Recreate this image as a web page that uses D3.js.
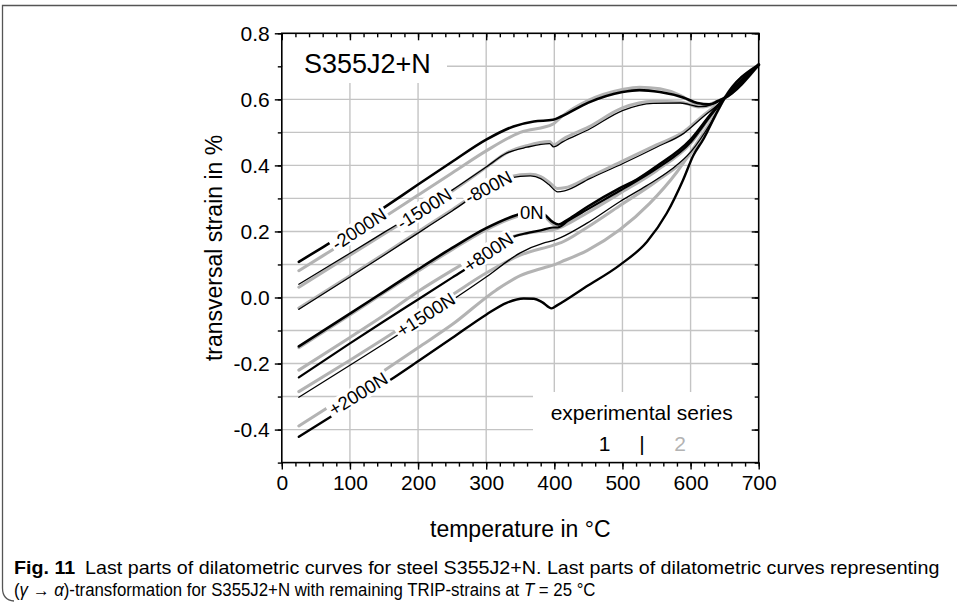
<!DOCTYPE html>
<html>
<head>
<meta charset="utf-8">
<script src="https://cdn.jsdelivr.net/npm/d3@7"></script>
<style>
  body { margin: 0; background: #fff; }
  svg { display: block; }
  text { font-family: "Liberation Sans", Arial, Helvetica, sans-serif; fill: #000; }
</style>
</head>
<body>
<svg id="chart" width="957" height="602"></svg>
<script>
// ---- axis ticks -------------------------------------------------------
const xTickValues = [0, 100, 200, 300, 400, 500, 600, 700];
const yTickValues = [-0.4, -0.2, 0.0, 0.2, 0.4, 0.6, 0.8];

// ---- load cases (label text) ------------------------------------------
const loads = ["-2000N", "-1500N", "-800N", "0N", "+800N", "+1500N", "+2000N"];

// ---- series 1 (black): [temperature °C, transversal strain %] ----------
const s1_m2000 = [[25,0.108],[60,0.152],[100,0.204],[150,0.272],[200,0.342],[250,0.411],[300,0.478],[340,0.518],[370,0.533],[398,0.538],[410,0.548],[450,0.590],[500,0.622],[525,0.628],[555,0.622],[590,0.605],[610,0.589],[628,0.585],[640,0.595],[650,0.604],[700,0.705]];
const s1_m1500 = [[25,0.040],[100,0.134],[150,0.197],[200,0.260],[250,0.325],[300,0.395],[330,0.437],[360,0.455],[393,0.466],[399,0.456],[413,0.472],[450,0.508],[500,0.566],[545,0.588],[585,0.589],[614,0.578],[636,0.588],[650,0.604],[700,0.705]];
const s1_m800  = [[25,-0.036],[100,0.062],[150,0.128],[200,0.195],[250,0.262],[300,0.330],[335,0.362],[365,0.368],[380,0.360],[392,0.342],[405,0.320],[415,0.323],[452,0.360],[500,0.405],[550,0.455],[590,0.497],[619,0.548],[638,0.580],[650,0.604],[700,0.705]];
const s1_0     = [[25,-0.148],[100,-0.049],[150,0.018],[200,0.085],[250,0.150],[300,0.210],[345,0.250],[368,0.262],[385,0.252],[398,0.228],[406,0.221],[420,0.236],[448,0.274],[496,0.331],[521,0.357],[550,0.397],[600,0.478],[630,0.556],[650,0.604],[700,0.705]];
const s1_p800  = [[25,-0.242],[100,-0.139],[150,-0.072],[200,-0.006],[250,0.060],[300,0.126],[340,0.184],[360,0.195],[380,0.203],[398,0.212],[405,0.212],[420,0.232],[448,0.266],[496,0.323],[550,0.390],[600,0.470],[630,0.552],[650,0.604],[700,0.705]];
const s1_p1500 = [[25,-0.302],[100,-0.205],[150,-0.140],[200,-0.074],[250,-0.008],[300,0.062],[350,0.135],[385,0.165],[398,0.172],[410,0.182],[448,0.225],[496,0.290],[535,0.338],[570,0.385],[600,0.440],[630,0.530],[650,0.604],[700,0.705]];
const s1_p2000 = [[25,-0.422],[100,-0.325],[159,-0.250],[200,-0.193],[250,-0.123],[300,-0.052],[330,-0.016],[355,-0.003],[370,-0.004],[382,-0.014],[396,-0.033],[404,-0.024],[447,0.033],[496,0.098],[536,0.169],[565,0.255],[589,0.356],[604,0.430],[619,0.480],[636,0.550],[650,0.604],[700,0.705]];

// ---- series 2 (grey) ---------------------------------------------------
const s2_m2000 = [[25,0.081],[60,0.126],[100,0.177],[150,0.243],[200,0.310],[250,0.377],[300,0.444],[350,0.500],[398,0.525],[412,0.550],[450,0.597],[500,0.630],[525,0.637],[555,0.632],[585,0.612],[605,0.588],[618,0.577],[632,0.583],[650,0.604],[700,0.705]];
const s2_m1500 = [[25,0.031],[100,0.128],[150,0.192],[200,0.256],[250,0.322],[300,0.394],[330,0.438],[360,0.460],[393,0.472],[399,0.462],[413,0.480],[450,0.516],[500,0.574],[545,0.594],[585,0.592],[612,0.577],[634,0.590],[650,0.604],[700,0.705]];
const s2_m800  = [[25,-0.032],[100,0.066],[150,0.132],[200,0.199],[250,0.266],[300,0.333],[335,0.366],[365,0.373],[380,0.366],[392,0.350],[405,0.330],[415,0.332],[452,0.366],[500,0.413],[550,0.462],[590,0.502],[619,0.552],[638,0.583],[650,0.604],[700,0.705]];
const s2_0     = [[25,-0.152],[100,-0.053],[150,0.014],[200,0.080],[250,0.145],[300,0.205],[345,0.245],[368,0.256],[385,0.246],[398,0.222],[406,0.216],[420,0.230],[448,0.268],[496,0.326],[550,0.393],[600,0.474],[630,0.553],[650,0.604],[700,0.705]];
const s2_p800  = [[25,-0.220],[100,-0.121],[150,-0.054],[200,0.018],[250,0.082],[300,0.142],[340,0.185],[370,0.198],[398,0.205],[412,0.215],[448,0.256],[496,0.315],[550,0.384],[600,0.466],[630,0.550],[650,0.604],[700,0.705]];
const s2_p1500 = [[25,-0.285],[100,-0.190],[150,-0.125],[200,-0.058],[250,0.008],[300,0.074],[350,0.128],[398,0.158],[410,0.166],[448,0.212],[496,0.278],[550,0.352],[600,0.436],[630,0.528],[650,0.604],[700,0.705]];
const s2_p2000 = [[25,-0.389],[100,-0.290],[151,-0.220],[200,-0.152],[250,-0.082],[315,0.023],[350,0.066],[385,0.090],[398,0.098],[410,0.108],[448,0.142],[496,0.205],[540,0.285],[580,0.380],[610,0.470],[635,0.550],[650,0.604],[700,0.705]];

const series1 = [s1_m2000, s1_m1500, s1_m800, s1_0, s1_p800, s1_p1500, s1_p2000];
const series2 = [s2_m2000, s2_m1500, s2_m800, s2_0, s2_p800, s2_p1500, s2_p2000];
// line weight of each series-1 curve (some traces are thinner)
const series1Width = [2.6, 1.3, 1.3, 2.6, 2.2, 1.3, 2.4];

// temperature at which each load label sits on its pair of curves
const labelT = [113, 209, 303, 367, 303, 211, 112];

// ---- layout -----------------------------------------------------------
const svg = d3.select("#chart");
const W = 957, H = 602;
const x = d3.scaleLinear().domain([0, 700]).range([281.8, 758.7]);
const y = d3.scaleLinear().domain([-0.5, 0.8]).range([462.6, 33.3]);
const [x0, x1] = x.range();
const [y0, y1] = y.range();

svg.append("rect").attr("width", W).attr("height", H).attr("fill", "#fff");

// figure frame
svg.append("path")
  .attr("d", `M${W},5.5 H2.5 V588 Q2.5,600 14,601`)
  .attr("fill", "none").attr("stroke", "#555").attr("stroke-width", 1.3);

// grid
const gridColor = "#c4c4c4";
const grid = svg.append("g");
d3.range(100, 700, 100).forEach(t => {
  grid.append("line").attr("x1", x(t)).attr("x2", x(t)).attr("y1", y0).attr("y2", y1)
    .attr("stroke", gridColor).attr("stroke-width", 1.4);
});
d3.range(-4, 8).map(k => k / 10).forEach(v => {
  grid.append("line").attr("x1", x0).attr("x2", x1).attr("y1", y(v)).attr("y2", y(v))
    .attr("stroke", gridColor).attr("stroke-width", 1.4);
});

// white panels behind the grade name and the series legend
svg.append("rect").attr("x", x0 + 1).attr("y", y1 + 1).attr("width", 447 - x0 - 1).attr("height", 83 - y1 - 1).attr("fill", "#fff");
svg.append("rect").attr("x", 533).attr("y", 392).attr("width", x1 - 533 - 1).attr("height", y0 - 392 - 1).attr("fill", "#fff");

// curves
const line = d3.line().x(d => x(d[0])).y(d => y(d[1])).curve(d3.curveMonotoneX);
const curves = svg.append("g").attr("fill", "none").attr("stroke-linejoin", "round").attr("stroke-linecap", "round");
series2.forEach(s => {
  curves.append("path").attr("d", line(s)).attr("stroke", "#b3b3b3").attr("stroke-width", 3);
});
series1.forEach((s, i) => {
  curves.append("path").attr("d", line(s)).attr("stroke", "#000").attr("stroke-width", series1Width[i]);
});

// load labels, each on a white patch that interrupts the curves
function valueAt(s, t) {
  for (let i = 1; i < s.length; i++) {
    if (s[i][0] >= t) {
      const [ta, va] = s[i - 1], [tb, vb] = s[i];
      return va + (vb - va) * (t - ta) / (tb - ta);
    }
  }
  return s[s.length - 1][1];
}
const labelLayer = svg.append("g");
loads.forEach((name, i) => {
  const t = labelT[i];
  const v = (valueAt(series1[i], t) + valueAt(series2[i], t)) / 2;
  const dx = x(t + 10) - x(t - 10);
  const dy = y(valueAt(series1[i], t + 10)) - y(valueAt(series1[i], t - 10));
  let ang = Math.atan2(dy, dx) * 180 / Math.PI;
  if (name === "0N") ang = 0;
  const g = labelLayer.append("g").attr("transform", `translate(${x(t)},${y(v)}) rotate(${ang})`);
  const txt = g.append("text").attr("text-anchor", "middle").attr("dy", "0.36em")
    .style("font-size", "18.5px").text(name);
  const w = txt.node().getComputedTextLength();
  g.insert("rect", "text").attr("x", -w / 2 - 2).attr("y", -9).attr("width", w + 4).attr("height", 18).attr("fill", "#fff");
});

// axes: ticks out on left/bottom, in on top/right
const minorX = d3.range(0, 701, 20);
const minorY = d3.range(-5, 9).map(k => k / 10);
const fmtY = v => v.toFixed(1);   // plain hyphen-minus for negatives
function tickAxis(axisFn, scale, values, size, fmt) {
  return axisFn(scale).tickValues(values).tickSize(size).tickSizeOuter(0).tickFormat(fmt || "");
}
const axes = svg.append("g");
const bottomMajor = axes.append("g").attr("transform", `translate(0,${y0})`);
axes.append("g").attr("transform", `translate(0,${y0})`).call(tickAxis(d3.axisBottom, x, minorX, 4));
bottomMajor.call(tickAxis(d3.axisBottom, x, xTickValues, 7, d3.format("d")).tickPadding(5));
axes.append("g").attr("transform", `translate(0,${y1})`).call(tickAxis(d3.axisTop, x, minorX, -4));
axes.append("g").attr("transform", `translate(0,${y1})`).call(tickAxis(d3.axisTop, x, xTickValues, -7));
axes.append("g").attr("transform", `translate(${x0},0)`).call(tickAxis(d3.axisLeft, y, minorY, 4));
axes.append("g").attr("transform", `translate(${x0},0)`).call(tickAxis(d3.axisLeft, y, yTickValues, 7, fmtY).tickPadding(5));
axes.append("g").attr("transform", `translate(${x1},0)`).call(tickAxis(d3.axisRight, y, minorY, -4));
axes.append("g").attr("transform", `translate(${x1},0)`).call(tickAxis(d3.axisRight, y, yTickValues, -7));
axes.selectAll(".domain").remove();
axes.selectAll(".tick line").attr("stroke", "#000").attr("stroke-width", 1.4);
axes.selectAll(".tick text").style("font-size", "21px").attr("fill", "#000");
svg.append("rect").attr("x", x0).attr("y", y1).attr("width", x1 - x0).attr("height", y0 - y1)
  .attr("fill", "none").attr("stroke", "#000").attr("stroke-width", 1.6);

// grade name
svg.append("text").attr("x", 304).attr("y", 73).style("font-size", "27px").text("S355J2+N");

// legend
svg.append("text").attr("x", 641.7).attr("y", 420).attr("text-anchor", "middle").style("font-size", "21px").text("experimental series");
svg.append("text").attr("x", 604.5).attr("y", 451).attr("text-anchor", "middle").style("font-size", "21px").text("1");
svg.append("text").attr("x", 642).attr("y", 451).attr("text-anchor", "middle").style("font-size", "21px").text("|");
svg.append("text").attr("x", 680).attr("y", 451).attr("text-anchor", "middle").style("font-size", "21px").style("fill", "#b3b3b3").text("2");

// axis titles
svg.append("text").attr("x", (x0 + x1) / 2).attr("y", 537).attr("text-anchor", "middle").style("font-size", "23px").text("temperature in °C");
svg.append("text").attr("transform", `translate(222,${(y0 + y1) / 2}) rotate(-90)`).attr("text-anchor", "middle").style("font-size", "23px").text("transversal strain in %");

// caption: condensed by a horizontal scale so each line keeps its width
function captionLine(px, py, width, parts) {
  const g = svg.append("g");
  const t = g.append("text").style("font-size", "17.5px");
  parts.forEach(p => {
    const s = t.append("tspan").text(p.text);
    if (p.bold) s.style("font-weight", "bold");
    if (p.italic) s.style("font-style", "italic");
  });
  const k = width / t.node().getComputedTextLength();
  g.attr("transform", `translate(${px},${py}) scale(${k},1)`);
}
captionLine(14, 574, 926, [
  { text: "Fig. 11", bold: true },
  { text: "\u2002Last parts of dilatometric curves for steel S355J2+N. Last parts of dilatometric curves representing" }
]);
captionLine(14, 596, 582, [
  { text: "(" }, { text: "γ", italic: true }, { text: " → " }, { text: "α", italic: true },
  { text: ")-transformation for S355J2+N with remaining TRIP-strains at " },
  { text: "T", italic: true }, { text: " = 25 °C" }
]);
</script>
</body>
</html>
